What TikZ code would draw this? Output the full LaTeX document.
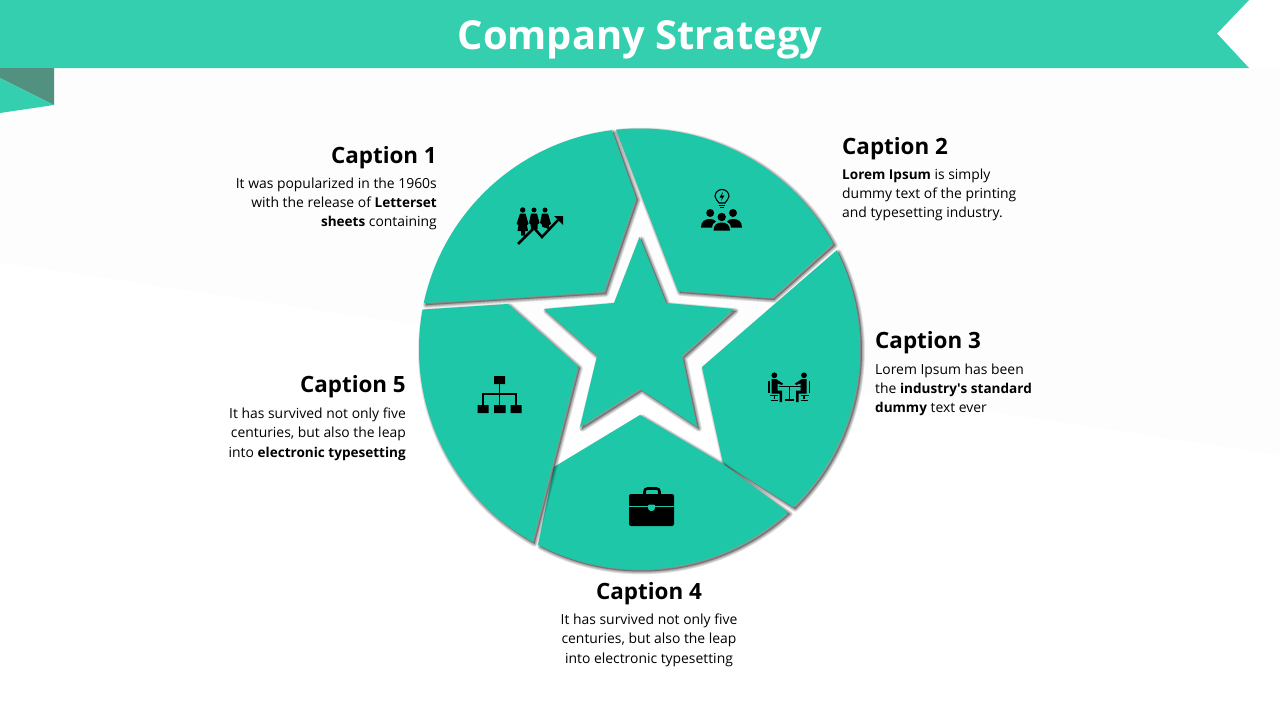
\documentclass[tikz,border=0pt]{standalone}
\usepackage{fontspec}
\setmainfont{Open Sans}
\definecolor{banner}{HTML}{34CFAE}
\definecolor{seg}{HTML}{1EC7A8}
\definecolor{fold}{HTML}{52917F}
\definecolor{faint}{HTML}{FDFDFD}
\newcommand{\softshape}[1]{%
  \foreach \w in {6,5,4,3,2,1}{\path[shift={(2,2)},draw=black,line width=\w pt,opacity=.07,line join=round] #1;}%
  \path[shift={(2,2)},fill=black,opacity=.3] #1;%
  \fill[seg] #1;}
\newcommand{\bt}[1]{{\fontsize{13.55}{19.1}\selectfont\bfseries #1}}
\tikzset{
  captext/.style={inner sep=0pt,font=\fontsize{22.4}{26}\selectfont\bfseries},
  bodytext/.style={inner sep=0pt,font=\fontsize{13.9}{19.1}\selectfont},
  icon/.style={fill=black,draw=none},
  iconline/.style={draw=black,fill=none}
}
\begin{document}
\begin{tikzpicture}[x=1pt,y=-1pt]
\useasboundingbox (0,0) rectangle (1280,720);
\fill[white] (0,0) rectangle (1280,720);
\fill[faint] (0,68) -- (1280,68) -- (1280,455) -- (0,262) -- cycle;
% banner
\fill[banner] (0,0) -- (1249,0) -- (1217,33.5) -- (1249,68) -- (0,68) -- cycle;
\fill[fold] (0,68) -- (54,68) -- (54,105) -- (0,78) -- cycle;
\fill[banner] (0,78) -- (54,105) -- (0,113) -- cycle;
\node[inner sep=0pt,text=white,font=\fontsize{39.9}{44}\selectfont\bfseries] (title) at (640,40) {Company Strategy};
% pie
\softshape{([shift={(192:220.5)}]639.5,349) arc[start angle=192,end angle=262.8,radius=220.5] -- (636,198) -- (604,292) -- cycle}
\softshape{([shift={(263.9:220.5)}]639.5,349) arc[start angle=263.9,end angle=331.4,radius=220.5] -- (772,298) -- (678,291) -- cycle}
\softshape{([shift={(333.4:220.5)}]639.5,349) arc[start angle=333.4,end angle=405.8,radius=220.5] -- (723,463) -- (702,367) -- cycle}
\softshape{([shift={(407.7:220.5)}]639.5,349) arc[start angle=407.7,end angle=477.4,radius=220.5] -- (554,467) -- (640,415) -- (723,464) -- cycle}
\softshape{([shift={(479:220.5)}]639.5,349) arc[start angle=479,end angle=550.3,radius=220.5] -- (508,304) -- (578,366) -- (552,467) -- cycle}
\softshape{(639.5,237) -- (666,303) -- (734,309) -- (682,356) -- (697,427) -- (640,389) -- (580,427) -- (597,356) -- (544,309) -- (614,303) -- cycle}
% icon 1: people and rising arrow
\fill[icon] (522.7,210) circle (2.7) (534,210) circle (2.5) (545,210) circle (2.5);
\fill[icon] (520,213.5) -- (525.5,213.5) -- (528.5,224) -- (527,225) -- (528,231) -- (525,231) -- (525,235.5) -- (521,235.5) -- (521,231) -- (517.5,231) -- (518.5,225) -- (516.5,224) -- cycle;
\fill[icon] (531,213.5) -- (537,213.5) -- (539.5,223) -- (537.5,224.5) -- (537.5,229) -- (531,229) -- (530.5,224.5) -- (529,223) -- cycle;
\fill[icon] (542,213.5) -- (548,213.5) -- (551,224) -- (549,225) -- (549,230) -- (546.5,228) -- (542.5,227) -- (541.5,224) -- (540,223) -- cycle;
\draw[iconline,line width=2.5pt,line join=miter] (518,244) -- (534,228) -- (542,237) -- (558,220);
\fill[icon] (554,216) -- (563,216) -- (563,225) -- cycle;
% icon 2: people and idea bulb
\draw[iconline,line width=1.1pt] (719,203) .. controls (718,200) and (715,199.5) .. (715,196.5) arc[start angle=180,end angle=360,radius=7] .. controls (729,199.5) and (726,200) .. (725,203) -- cycle;
\draw[iconline,line width=1.1pt] (719,205.5) -- (725,205.5) (720,207.6) -- (724,207.6);
\fill[icon] (723,192) -- (719.5,197.5) -- (722,197.5) -- (721,201) -- (724.5,195.5) -- (722,195.5) -- cycle;
\fill[icon] (710.2,213) circle (4) (733,213) circle (4) (721.7,217) circle (4.2);
\fill[icon] (701,227.5) .. controls (701,221) and (705,219) .. (710,219) .. controls (713,219) and (715,220) .. (716,221.5) .. controls (713,223) and (712,225) .. (712,227.5) -- cycle;
\fill[icon] (742,227.5) .. controls (742,221) and (738,219) .. (733,219) .. controls (730,219) and (728,220) .. (727,221.5) .. controls (730,223) and (731,225) .. (731,227.5) -- cycle;
\fill[icon] (713.5,230.7) .. controls (713.5,225) and (717,222.5) .. (721.7,222.5) .. controls (726.5,222.5) and (730,225) .. (730,230.7) -- cycle;
% icon 3: two people at a table
\fill[icon] (774.3,375.3) circle (2.9) (804,375.3) circle (2.9);
\fill[icon] (771.5,379) -- (776,379) -- (783,383.5) -- (782,385) -- (777.5,383.5) -- (777.5,390.5) -- (782,390.5) -- (782,402) -- (779.5,402) -- (779.5,393.5) -- (771.5,393.5) -- cycle;
\fill[icon] (806.5,379) -- (802,379) -- (795,383.5) -- (796,385) -- (800.5,383.5) -- (800.5,390.5) -- (796,390.5) -- (796,402) -- (798.5,402) -- (798.5,393.5) -- (806.5,393.5) -- cycle;
\draw[iconline,line width=1.3pt] (769,381) -- (769,393) (809.5,381) -- (809.5,393) (778.5,386.5) -- (801.5,386.5) (789.5,386.5) -- (789.5,399.5) (785,400) -- (794,400);
\draw[iconline,line width=1.2pt] (770,395.5) -- (778,395.5) (774.5,395.5) -- (774.5,399) (770.5,400.5) -- (778,400.5) (800.5,395.5) -- (808.5,395.5) (804,395.5) -- (804,399) (800.5,400.5) -- (808,400.5);
% icon 4: briefcase
\draw[iconline,line width=2.6pt,rounded corners=3pt] (644.5,496) -- (644.5,488.5) -- (659.5,488.5) -- (659.5,496);
\fill[icon,rounded corners=2pt] (629,494) rectangle (674,526);
\fill[seg] (629,505.5) rectangle (674,506.7);
\fill[seg,rounded corners=1pt] (648,504.5) -- (655,504.5) -- (655,509) -- (653,511) -- (650,511) -- (648,509) -- cycle;
% icon 5: hierarchy
\fill[icon] (494,376) rectangle (505,384) (477.5,405) rectangle (488.5,413) (494,405) rectangle (505.5,413) (510.5,405) rectangle (521.5,413);
\draw[iconline,line width=1.8pt] (483,405) -- (483,394) -- (516,394) -- (516,405) (499.5,384) -- (499.5,405);
% captions
\node[captext,anchor=east] (c1) at (437,158) {Caption 1};
\node[bodytext,anchor=north east,align=right] (t1) at (437,178) {It was popularized in the 1960s\\with the release of \bt{Letterset}\\\bt{sheets} containing};
\node[captext,anchor=west] (c2) at (842,149) {Caption 2};
\node[bodytext,anchor=north west,align=left] (t2) at (842,169) {\bt{Lorem Ipsum} is simply\\dummy text of the printing\\and typesetting industry.};
\node[captext,anchor=west] (c3) at (875,343) {Caption 3};
\node[bodytext,anchor=north west,align=left] (t3) at (875,364) {Lorem Ipsum has been\\the \bt{industry\textquotesingle s standard}\\\bt{dummy} text ever};
\node[captext] (c4) at (649,594) {Caption 4};
\node[bodytext,anchor=north,align=center] (t4) at (649,614) {It has survived not only five\\centuries, but also the leap\\into electronic typesetting};
\node[captext,anchor=east] (c5) at (406,387) {Caption 5};
\node[bodytext,anchor=north east,align=right] (t5) at (406,408) {It has survived not only five\\centuries, but also the leap\\into \bt{electronic typesetting}};
\end{tikzpicture}
\end{document}
